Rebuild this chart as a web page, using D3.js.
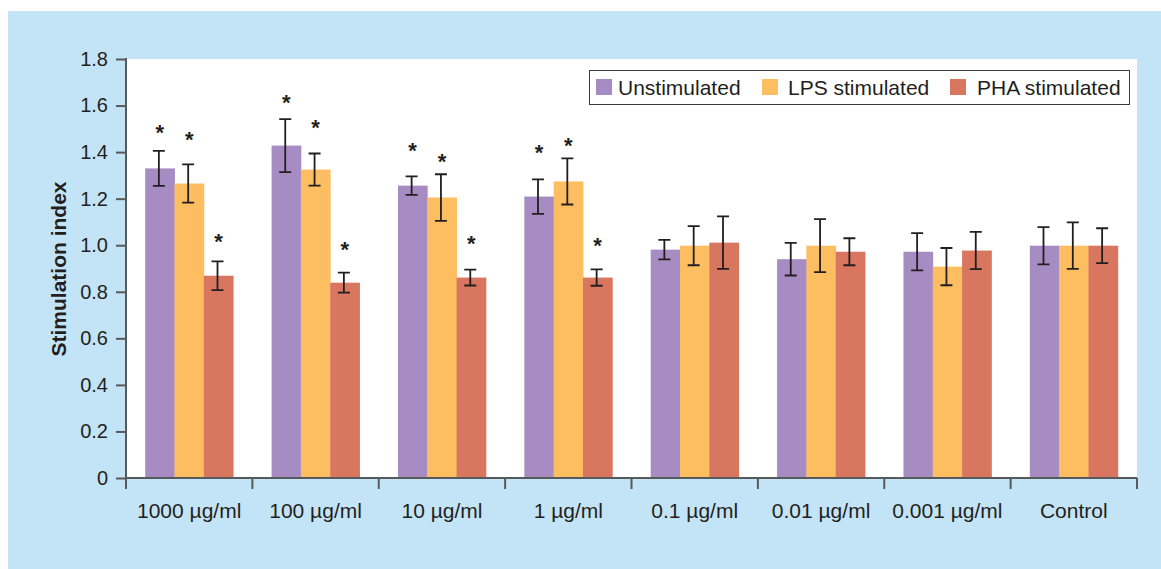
<!DOCTYPE html>
<html>
<head>
<meta charset="utf-8">
<script src="https://cdn.jsdelivr.net/npm/d3@7"></script>
<style>
  body { margin: 0; background: #fff; }
  svg { display: block; font-family: "Liberation Sans", Arial, Helvetica, sans-serif; }
</style>
</head>
<body>
<svg id="chart" width="1161" height="569"></svg>
<script>
const categories = ["1000 µg/ml", "100 µg/ml", "10 µg/ml", "1 µg/ml", "0.1 µg/ml", "0.01 µg/ml", "0.001 µg/ml", "Control"];
const seriesNames = ["Unstimulated", "LPS stimulated", "PHA stimulated"];
const seriesColors = ["#a78cc3", "#fdbd61", "#d8765f"];

// mean values per series, one per category
const unstimulated = [1.33, 1.428, 1.256, 1.209, 0.981, 0.940, 0.972, 0.998];
const lpsStimulated = [1.265, 1.325, 1.205, 1.274, 0.998, 0.998, 0.908, 0.998];
const phaStimulated = [0.869, 0.839, 0.861, 0.861, 1.011, 0.972, 0.977, 0.998];

// error (± half range)
const unstimulatedErr = [0.075, 0.114, 0.040, 0.074, 0.042, 0.070, 0.080, 0.080];
const lpsErr = [0.082, 0.069, 0.100, 0.099, 0.084, 0.114, 0.080, 0.100];
const phaErr = [0.062, 0.043, 0.034, 0.035, 0.113, 0.058, 0.080, 0.075];

// significance markers: height (in index units) of the asterisk, null = none
const unstimulatedStar = [1.496, 1.622, 1.419, 1.410, null, null, null, null];
const lpsStar = [1.466, 1.518, 1.371, 1.440, null, null, null, null];
const phaStar = [1.027, 0.993, 1.018, 1.010, null, null, null, null];

const yTicks = [0, 0.2, 0.4, 0.6, 0.8, 1.0, 1.2, 1.4, 1.6, 1.8];

const values = [unstimulated, lpsStimulated, phaStimulated];
const errors = [unstimulatedErr, lpsErr, phaErr];
const stars = [unstimulatedStar, lpsStar, phaStar];

const ink = "#231f20";
const axisColor = "#58595b";

const svg = d3.select("#chart");

// background panel
svg.append("rect")
  .attr("x", 8).attr("y", 11)
  .attr("width", 1161 - 8).attr("height", 569 - 11)
  .attr("fill", "#c3e4f6");

const plot = { left: 126, right: 1137, top: 59, bottom: 478 };

svg.append("rect")
  .attr("x", plot.left).attr("y", plot.top)
  .attr("width", plot.right - plot.left).attr("height", plot.bottom - plot.top)
  .attr("fill", "#fff");

const x = d3.scaleBand()
  .domain(categories)
  .range([plot.left, plot.right])
  .paddingInner(0).paddingOuter(0);

const xs = d3.scaleBand()
  .domain(seriesNames)
  .range([0, x.bandwidth()])
  .paddingInner(0)
  .paddingOuter(0.655);

const y = d3.scaleLinear()
  .domain([0, 1.8])
  .range([plot.bottom, plot.top]);

/////////////////////////////////////////////////////////
// bars

const rows = [];
categories.forEach((c, ci) => {
  seriesNames.forEach((s, si) => {
    rows.push({
      cat: c, series: s, si: si,
      value: values[si][ci],
      err: errors[si][ci],
      star: stars[si][ci]
    });
  });
});

const group = svg.append("g").attr("class", "bars");

group.selectAll("rect.bar")
  .data(rows)
  .enter().append("rect")
  .attr("class", "bar")
  .attr("x", (d) => x(d.cat) + xs(d.series))
  .attr("y", (d) => y(d.value))
  .attr("width", xs.bandwidth() + 0.4)
  .attr("height", (d) => y(0) - y(d.value))
  .attr("fill", (d) => seriesColors[d.si]);

// error bars
const capHalf = 6;
const eb = svg.append("g")
  .attr("class", "errors")
  .attr("stroke", ink)
  .attr("stroke-width", 1.8)
  .attr("fill", "none");

const errCx = (d) => x(d.cat) + xs(d.series) + xs.bandwidth() / 2 - 1;

eb.selectAll("path")
  .data(rows)
  .enter().append("path")
  .attr("d", (d) => {
    const cx = errCx(d);
    const yt = y(d.value + d.err), yb = y(d.value - d.err);
    return `M${cx - capHalf},${yt}H${cx + capHalf}M${cx},${yt}V${yb}M${cx - capHalf},${yb}H${cx + capHalf}`;
  });

// asterisks
svg.append("g").selectAll("text.star")
  .data(rows.filter((d) => d.star != null))
  .enter().append("text")
  .attr("class", "star")
  .attr("x", (d) => errCx(d) + 1)
  .attr("y", (d) => y(d.star) + 10)
  .attr("text-anchor", "middle")
  .attr("font-size", 22)
  .attr("font-weight", "bold")
  .attr("fill", ink)
  .text("*");

/////////////////////////////////////////////////////////
// axes

const yAxis = svg.append("g")
  .attr("transform", `translate(${plot.left},0)`)
  .call(d3.axisLeft(y).tickValues(yTicks).tickSize(10).tickPadding(8)
    .tickFormat((d) => d === 0 ? "0" : d3.format(".1f")(d)));

yAxis.select(".domain").remove();
yAxis.selectAll(".tick line").attr("stroke", axisColor).attr("stroke-width", 2);
yAxis.selectAll(".tick text")
  .attr("font-size", 20)
  .attr("fill", ink)
  .attr("font-family", "Liberation Sans, Arial, sans-serif");

// vertical axis line, running down to the first x tick
svg.append("line")
  .attr("x1", plot.left).attr("x2", plot.left)
  .attr("y1", plot.top - 1).attr("y2", plot.bottom + 11)
  .attr("stroke", axisColor).attr("stroke-width", 2);

// x axis line
svg.append("line")
  .attr("x1", plot.left).attr("x2", plot.right)
  .attr("y1", plot.bottom).attr("y2", plot.bottom)
  .attr("stroke", axisColor).attr("stroke-width", 2);

// x ticks at band boundaries
const boundaries = categories.map((c) => x(c)).concat([plot.right]);
svg.append("g").selectAll("line")
  .data(boundaries)
  .enter().append("line")
  .attr("x1", (d) => d).attr("x2", (d) => d)
  .attr("y1", plot.bottom).attr("y2", plot.bottom + 11)
  .attr("stroke", axisColor).attr("stroke-width", 2);

svg.append("g").selectAll("text")
  .data(categories)
  .enter().append("text")
  .attr("x", (d) => x(d) + x.bandwidth() / 2)
  .attr("y", 518)
  .attr("text-anchor", "middle")
  .attr("font-size", 21)
  .attr("fill", ink)
  .text((d) => d);

// y title
svg.append("text")
  .attr("transform", `translate(66,269) rotate(-90)`)
  .attr("text-anchor", "middle")
  .attr("font-size", 21)
  .attr("font-weight", "bold")
  .attr("fill", ink)
  .text("Stimulation index");

/////////////////////////////////////////////////////////
// legend

const legend = svg.append("g").attr("class", "legend");
legend.append("rect")
  .attr("x", 589.5).attr("y", 70.5)
  .attr("width", 540).attr("height", 34)
  .attr("fill", "#fff")
  .attr("stroke", "#3a3a3a").attr("stroke-width", 1);

const swatchX = [596, 762, 950];
const labelX = [618, 788, 977];
const item = legend.selectAll("g.item")
  .data(seriesNames)
  .enter().append("g")
  .attr("class", "item");

item.append("rect")
  .attr("x", (d, i) => swatchX[i]).attr("y", 79)
  .attr("width", 16).attr("height", 16)
  .attr("fill", (d, i) => seriesColors[i]);

item.append("text")
  .attr("x", (d, i) => labelX[i]).attr("y", 95)
  .attr("font-size", 21)
  .attr("fill", ink)
  .text((d) => d);
</script>
</body>
</html>
